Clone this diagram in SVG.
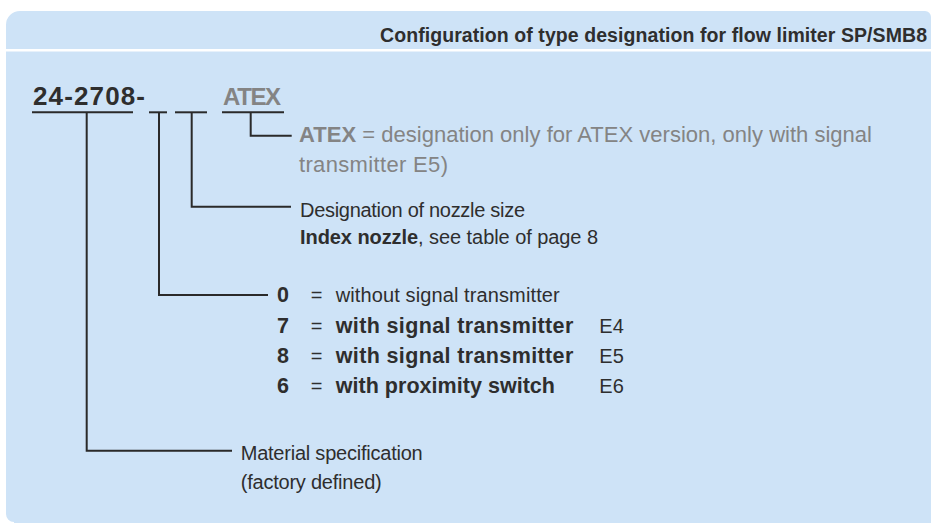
<svg xmlns="http://www.w3.org/2000/svg" width="931" height="523" viewBox="0 0 931 523">
<style>
text{font-family:"Liberation Sans",Arial,sans-serif;fill:#2e2e2e}
.b{font-weight:bold}
.g{fill:#848484}
.t20{font-size:20px}
.t22{font-size:21.5px}
.ln{fill:none;stroke:#2a2a2a;stroke-width:2}
</style>
<rect width="931" height="523" fill="#ffffff"/>
<path d="M6,25 A14,14 0 0 1 20,11 L925,11 A6,6 0 0 1 931,17 L931,523 L14,523 L14,522 A8,8 0 0 1 6,514 Z" fill="#cee3f7"/>
<rect x="6" y="49" width="925" height="2.5" fill="#ffffff"/>
<g id="title">
<text x="380" y="41.7" font-size="19.5" class="b" textLength="547">Configuration of type designation for flow limiter SP/SMB8</text>
</g>
<g id="code">
<text x="33" y="105" font-size="26" class="b" textLength="112">24-2708-</text>
<text x="223" y="105" font-size="24" class="b g" textLength="58">ATEX</text>
<g class="ln">
<line x1="32" y1="112.3" x2="133" y2="112.3"/>
<line x1="149" y1="112.3" x2="167" y2="112.3"/>
<line x1="175" y1="112.3" x2="207" y2="112.3"/>
<line x1="222" y1="112.3" x2="284" y2="112.3"/>
</g>
</g>
<g id="connectors" class="ln">
<polyline points="86.7,112.3 86.7,450.7 232,450.7"/>
<polyline points="159,112.3 159,295 268,295"/>
<polyline points="191.7,112.3 191.7,206.7 291,206.7"/>
<polyline points="250.7,112.3 250.7,135.7 291.7,135.7"/>
</g>
<g id="atex-desc">
<text x="299" y="141.7" font-size="22" class="g" textLength="573"><tspan class="b g">ATEX</tspan> = designation only for ATEX version, only with signal</text>
<text x="299" y="171.7" font-size="22" class="g" textLength="149">transmitter E5)</text>
</g>
<g id="nozzle-desc">
<text x="300" y="216.7" class="t20" textLength="225">Designation of nozzle size</text>
<text x="300" y="244" class="t20" textLength="298"><tspan class="b">Index nozzle</tspan>, see table of page 8</text>
</g>
<g id="signal-desc">
<text x="277" y="301.7" class="b t22">0</text>
<text x="310.7" y="301.7" class="t20">=</text>
<text x="335.7" y="301.7" class="t20" textLength="224">without signal transmitter</text>
<text x="277" y="332.7" class="b t22">7</text>
<text x="310.7" y="332.7" class="t20">=</text>
<text x="335.7" y="332.7" class="b t22" textLength="237.6">with signal transmitter</text>
<text x="599.3" y="332.7" class="t20">E4</text>
<text x="277" y="363.3" class="b t22">8</text>
<text x="310.7" y="363.3" class="t20">=</text>
<text x="335.7" y="363.3" class="b t22" textLength="237.6">with signal transmitter</text>
<text x="599.3" y="363.3" class="t20">E5</text>
<text x="277" y="393.3" class="b t22">6</text>
<text x="310.7" y="393.3" class="t20">=</text>
<text x="335.7" y="393.3" class="b t22" textLength="219.3">with proximity switch</text>
<text x="599.3" y="393.3" class="t20">E6</text>
</g>
<g id="material-desc">
<text x="240.7" y="460" class="t20" textLength="182">Material specification</text>
<text x="240.7" y="489" class="t20" textLength="141">(factory defined)</text>
</g>
</svg>
